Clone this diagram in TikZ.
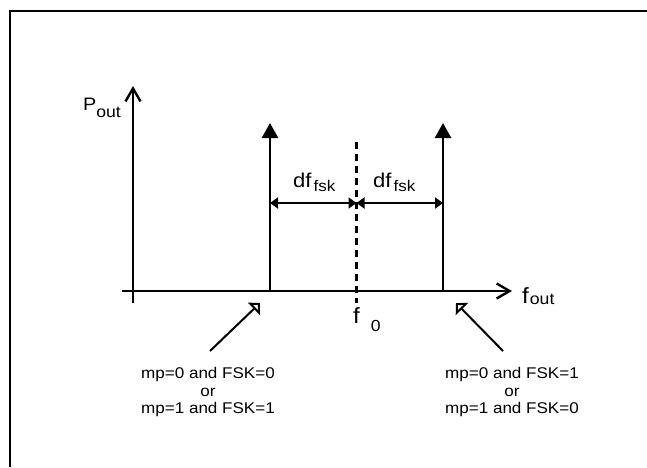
\documentclass[tikz,border=0pt]{standalone}
\usepackage{fontspec}
\setmainfont[FakeStretch=1.1]{Liberation Sans}
\usetikzlibrary{arrows.meta}
\newcommand{\lowtext}[3]{\raisebox{#1}{\fontsize{#2}{#2}\selectfont #3}}

\begin{document}
\begin{tikzpicture}[
    x=1pt, y=-1pt,
    every node/.style={inner sep=0pt},
    frame/.style={draw=black, line width=2.4pt},
    axis/.style={draw=black, line width=2.4pt, -{Straight Barb[length=13pt, width=15pt]}},
    spike/.style={draw=black, line width=2.4pt, -{Triangle[length=15pt, width=16pt]}},
    dimline/.style={draw=black, line width=1.9pt, {Triangle[length=8pt, width=11pt]}-{Triangle[length=8pt, width=11pt]}},
    pointer/.style={draw=black, line width=2pt, -{Triangle[open, length=8.5pt, width=17pt]}},
    condtext/.style={align=center, font=\fontsize{15.5}{17.5}\selectfont}
]
  \useasboundingbox (0,0) rectangle (647,467);

  % 1. Frame (runs off right and bottom)
  \draw[frame] (10,467) -- (10,11) -- (647,11);

  % 2. Axes
  \coordinate (yfoot) at (133,303);
  \coordinate (ytop) at (133,86);
  \coordinate (xstart) at (122,291);
  \coordinate (xend) at (512,291);
  \draw[axis] (yfoot) -- (ytop);
  \draw[axis] (xstart) -- (xend);
  \node[anchor=base west] (pout) at (83,110)
    {\fontsize{18}{18}\selectfont P\lowtext{-7pt}{16}{out}};
  \node[anchor=base west] (fout) at (522,303)
    {\fontsize{22}{22}\selectfont f\hspace{1pt}\lowtext{-1.5pt}{16}{out}};

  % 3. Spectral lines
  \coordinate (lbase) at (270,291);
  \coordinate (ltop) at (270,123);
  \coordinate (rbase) at (443,291);
  \coordinate (rtop) at (443,123);
  \draw[spike] (lbase) -- (ltop);
  \draw[spike] (rbase) -- (rtop);

  % 4. Centre frequency
  \coordinate (ctop) at (356.5,142);
  \coordinate (cfoot) at (356.5,303);
  \draw[line width=2.2pt, dash pattern=on 7pt off 5pt] (ctop) -- (cfoot);
  \node[anchor=base west] (fzero) at (353,323)
    {\fontsize{22}{22}\selectfont f\hspace{11pt}\lowtext{-8pt}{16}{0}};

  % 5. Deviation
  \coordinate (ldim) at (270,203);
  \coordinate (cdim) at (356.5,203);
  \coordinate (rdim) at (443,203);
  \draw[dimline] (ldim) -- (cdim);
  \draw[dimline] (cdim) -- (rdim);
  \node[anchor=base west] (dfl) at (293,187)
    {\fontsize{20}{20}\selectfont df\hspace{2pt}\lowtext{-4pt}{15.5}{fsk}};
  \node[anchor=base west] (dfr) at (373,187)
    {\fontsize{20}{20}\selectfont df\hspace{2pt}\lowtext{-4pt}{15.5}{fsk}};

  % 6. Conditions
  \node[condtext] (lcond) at (208,392) {mp=0 and FSK=0\\or\\mp=1 and FSK=1};
  \node[condtext] (rcond) at (512,392) {mp=0 and FSK=1\\or\\mp=1 and FSK=0};
  \coordinate (ltail) at (210,351);
  \coordinate (ltip) at (260,303);
  \coordinate (rtail) at (503,351);
  \coordinate (rtip) at (456,303);
  \draw[pointer] (ltail) -- (ltip);
  \draw[pointer] (rtail) -- (rtip);

\end{tikzpicture}
\end{document}
